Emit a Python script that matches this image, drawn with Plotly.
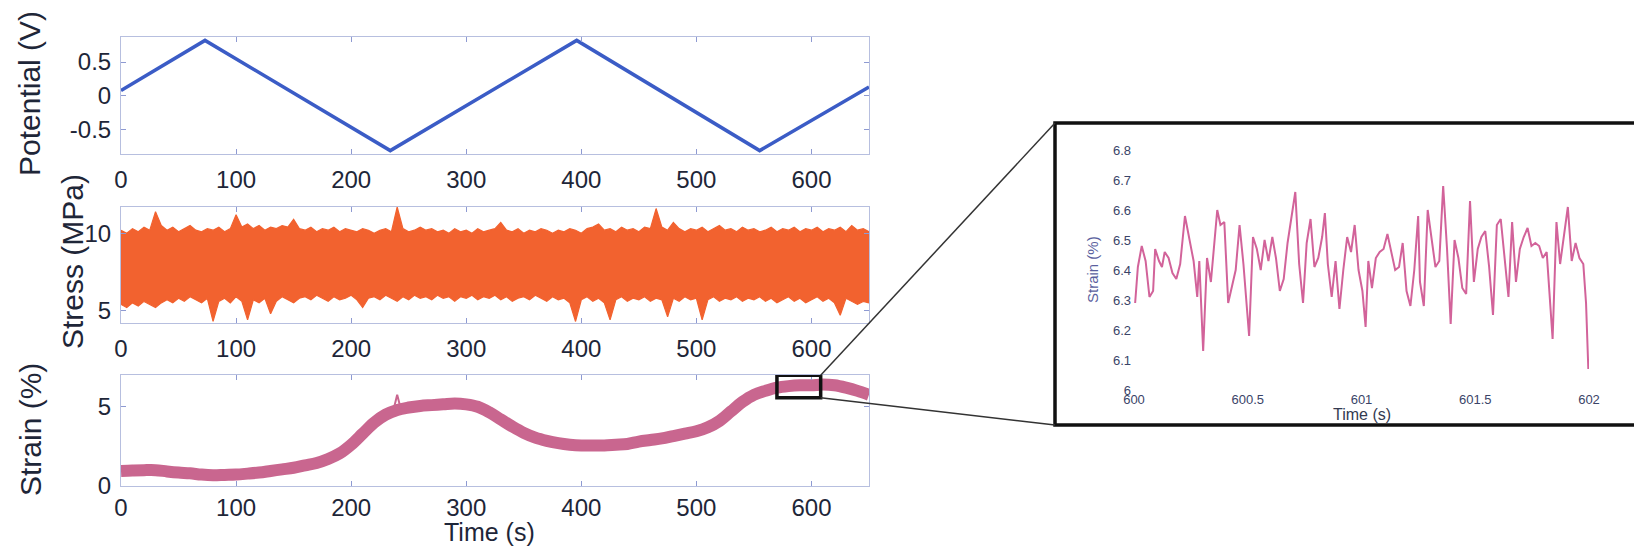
import plotly.graph_objects as go

# ---------------- data ----------------
pot_time = [0, 73, 234, 396, 555, 650]
pot_volt = [0.08, 0.82, -0.81, 0.82, -0.81, 0.13]

stress_time = list(range(0, 655, 5))
stress_upper = [
    10.2, 10.0, 10.3, 10.1, 10.4, 10.2, 11.4, 10.5, 10.2, 10.4,
    10.1, 10.3, 10.5, 10.2, 10.1, 10.3, 10.2, 10.4, 10.1, 10.3,
    11.2, 10.4, 10.6, 10.3, 10.5, 10.2, 10.4, 10.3, 10.5, 10.4,
    10.9, 10.3, 10.2, 10.4, 10.1, 10.3, 10.2, 10.4, 10.1, 10.3,
    10.2, 10.1, 10.3, 10.2, 10.0, 10.2, 10.3, 10.1, 11.7, 10.3,
    10.1, 10.2, 10.4, 10.2, 10.3, 10.1, 10.2, 10.0, 10.3, 10.1,
    10.2, 10.0, 10.3, 10.1, 10.2, 10.3, 10.7, 10.2, 10.1, 10.3,
    10.0, 10.2, 10.1, 10.3, 10.2, 10.0, 10.2, 10.1, 10.3, 10.2,
    10.0, 10.3, 10.4, 10.6, 10.2, 10.3, 10.1, 10.4, 10.2, 10.3,
    10.1, 10.4, 10.3, 11.6, 10.4, 10.2, 10.7, 10.3, 10.1, 10.3,
    10.2, 10.4, 10.1, 10.3, 10.5, 10.2, 10.3, 10.1, 10.4, 10.2,
    10.3, 10.1, 10.2, 10.4, 10.1, 10.3, 10.2, 10.4, 10.1, 10.3,
    10.2, 10.4, 10.1, 10.3, 10.2, 10.4, 10.1, 10.5, 10.2, 10.3,
    10.1,
]
stress_lower = [
    5.4, 5.2, 5.5, 5.3, 5.6, 5.4, 5.2, 5.5, 5.7, 5.5,
    5.8, 5.6, 5.9, 5.7, 5.5, 5.8, 4.3, 5.6, 5.8, 5.5,
    5.9, 5.6, 4.4, 5.7, 5.5, 5.8, 4.8, 5.6, 5.9, 5.7,
    5.5, 5.8, 5.9, 5.7, 6.0, 5.8, 5.6, 5.9, 5.7, 5.8,
    6.0, 5.7, 5.2, 5.8, 5.9, 5.7, 6.0, 5.8, 5.6, 5.9,
    5.7, 6.0, 5.8, 5.9, 5.7, 6.0, 5.8, 5.9, 5.6, 5.9,
    5.8, 6.0, 5.7, 5.9, 5.8, 6.0, 5.7, 5.9, 5.6, 5.8,
    5.9, 5.7, 6.0, 5.8, 5.6, 5.9, 5.7, 5.8, 5.5, 4.3,
    5.7, 5.9, 5.6, 5.8, 5.5, 4.4, 5.7, 5.9, 5.6, 5.8,
    5.7, 5.9, 5.6, 5.8, 5.7, 4.6, 5.8, 5.6, 5.9, 5.7,
    5.8, 4.4, 5.7, 5.9, 5.6, 5.8, 5.7, 5.9, 5.6, 5.8,
    5.7, 5.9, 5.6, 5.8, 5.5, 5.7, 5.9, 5.6, 5.8, 5.5,
    5.7, 5.9, 5.6, 5.8, 5.5, 4.7, 5.8, 5.6, 5.4, 5.6,
    5.5,
]

strain_time = list(range(0, 660, 10))
strain_pct = [
    0.95, 0.98, 1.0, 1.0, 0.92, 0.85, 0.8, 0.72, 0.68, 0.7,
    0.72, 0.78, 0.85, 0.95, 1.05, 1.15, 1.3, 1.45, 1.7, 2.05,
    2.6, 3.3, 4.0, 4.5, 4.8, 4.95, 5.05, 5.1, 5.15, 5.2,
    5.15, 5.0, 4.65, 4.2, 3.75, 3.35, 3.05, 2.85, 2.7, 2.6,
    2.55, 2.55, 2.55, 2.6, 2.65, 2.8, 2.9, 3.0, 3.15, 3.3,
    3.45, 3.7, 4.1, 4.7, 5.3, 5.75, 6.0, 6.2, 6.3, 6.35,
    6.35, 6.4, 6.35, 6.2, 6.0, 5.75,
]
spike_time = [237, 240, 243]
spike_pct = [4.85, 5.75, 4.9]

zoom_box_time = [570, 608]
zoom_box_pct = [5.57, 6.98]

inset_time = [
    600.005, 600.017, 600.034, 600.051, 600.068, 600.084, 600.093, 600.110, 600.123, 600.135,
    600.152, 600.169, 600.186, 600.203, 600.224, 600.245, 600.262, 600.278, 600.287, 600.304,
    600.321, 600.338, 600.354, 600.366, 600.380, 600.397, 600.414, 600.430, 600.447, 600.464,
    600.481, 600.506, 600.523, 600.540, 600.557, 600.574, 600.591, 600.608, 600.624, 600.641,
    600.658, 600.675, 600.692, 600.709, 600.726, 600.743, 600.759, 600.776, 600.793, 600.810,
    600.827, 600.839, 600.852, 600.869, 600.886, 600.903, 600.920, 600.937, 600.954, 600.970,
    600.987, 601.004, 601.018, 601.030, 601.046, 601.063, 601.080, 601.097, 601.114, 601.131,
    601.148, 601.165, 601.181, 601.198, 601.215, 601.232, 601.249, 601.257, 601.274, 601.291,
    601.308, 601.325, 601.342, 601.359, 601.376, 601.392, 601.409, 601.426, 601.443, 601.460,
    601.477, 601.494, 601.511, 601.527, 601.544, 601.561, 601.578, 601.595, 601.612, 601.629,
    601.646, 601.662, 601.679, 601.696, 601.713, 601.730, 601.747, 601.764, 601.781, 601.797,
    601.814, 601.840, 601.857, 601.873, 601.890, 601.907, 601.924, 601.941, 601.958, 601.975,
    601.987, 601.997,
]
inset_strain = [
    6.29, 6.41, 6.48, 6.43, 6.31, 6.33, 6.47, 6.43, 6.41, 6.46,
    6.44, 6.39, 6.37, 6.42, 6.58, 6.50, 6.43, 6.31, 6.43, 6.13,
    6.44, 6.36, 6.50, 6.60, 6.55, 6.56, 6.29, 6.34, 6.40, 6.55,
    6.42, 6.18, 6.51, 6.47, 6.40, 6.50, 6.43, 6.51, 6.44, 6.33,
    6.37, 6.49, 6.58, 6.66, 6.42, 6.29, 6.49, 6.57, 6.41, 6.44,
    6.51, 6.59, 6.42, 6.31, 6.43, 6.27, 6.40, 6.51, 6.46, 6.55,
    6.40, 6.33, 6.21, 6.43, 6.34, 6.44, 6.46, 6.47, 6.52, 6.46,
    6.40, 6.41, 6.49, 6.33, 6.28, 6.40, 6.58, 6.36, 6.28, 6.60,
    6.51, 6.41, 6.43, 6.68, 6.47, 6.22, 6.50, 6.44, 6.34, 6.32,
    6.63, 6.36, 6.47, 6.51, 6.53, 6.41, 6.25, 6.55, 6.57, 6.44,
    6.31, 6.56, 6.36, 6.47, 6.51, 6.54, 6.48, 6.49, 6.48, 6.44,
    6.46, 6.17, 6.56, 6.42, 6.51, 6.61, 6.43, 6.49, 6.44, 6.42,
    6.29, 6.07,
]

main_ticks = [0, 100, 200, 300, 400, 500, 600]
pot_ticks = [-0.5, 0, 0.5]
pot_labels = ["-0.5", "0", "0.5"]
inset_xticks = [600, 600.5, 601, 601.5, 602]
inset_xlabels = ["600", "600.5", "601", "601.5", "602"]
inset_yticks = [6.0, 6.1, 6.2, 6.3, 6.4, 6.5, 6.6, 6.7, 6.8]
inset_ylabels = ["6", "6.1", "6.2", "6.3", "6.4", "6.5", "6.6", "6.7", "6.8"]

# ---------------- layout helpers ----------------
# the page body has an 8 px margin, so the figure is drawn at (8, 8) of the window
OFF = 8
W, H = 1642 - 2 * OFF, 555 - 2 * OFF
def px(p):
    return (p - OFF) / W
def py(p):
    return 1 - (p - OFF) / H

FONT = "Liberation Sans, Arial, sans-serif"
TICKCOL = "#1e2638"
BLUE = "#3b5cc6"
ORANGE = "#f2622f"
PINK = "#c9668f"
INSET_PINK = "#d2639a"

main_xdom = [px(121), px(869)]
top_dom = [py(154), py(37)]
mid_dom = [py(323), py(207)]
bot_dom = [py(486), py(375)]
inset_xdom = [px(1134), px(1589)]
inset_ydom = [py(390), py(150)]

fig = go.Figure()
fig.add_trace(go.Scatter(x=pot_time, y=pot_volt, mode="lines",
                         line=dict(color=BLUE, width=3.5), xaxis="x", yaxis="y"))
fig.add_trace(go.Scatter(x=stress_time, y=stress_lower, mode="lines",
                         line=dict(color=ORANGE, width=1.2), xaxis="x2", yaxis="y2"))
fig.add_trace(go.Scatter(x=stress_time, y=stress_upper, mode="lines", fill="tonexty",
                         fillcolor=ORANGE, line=dict(color=ORANGE, width=1.2),
                         xaxis="x2", yaxis="y2"))
fig.add_trace(go.Scatter(x=strain_time, y=strain_pct, mode="lines",
                         line=dict(color=PINK, width=12, shape="spline"), xaxis="x3", yaxis="y3"))
fig.add_trace(go.Scatter(x=spike_time, y=spike_pct, mode="lines",
                         line=dict(color=PINK, width=2), xaxis="x3", yaxis="y3"))
fig.add_trace(go.Scatter(x=inset_time, y=inset_strain, mode="lines",
                         line=dict(color=INSET_PINK, width=2), xaxis="x4", yaxis="y4"))

def main_x(anchor, dom, standoff=4):
    return dict(domain=dom, anchor=anchor, range=[0, 650], tickvals=main_ticks,
                ticks="inside", ticklen=5, tickcolor="#8e9ad2", showline=True,
                linecolor="#b7bfdf", linewidth=1, mirror="ticks", showgrid=False,
                zeroline=False, tickfont=dict(family=FONT, size=24, color=TICKCOL),
                ticklabelstandoff=standoff, automargin=False)

def main_y(anchor, dom, rng, tv, tt=None):
    d = dict(domain=dom, anchor=anchor, range=rng, tickvals=tv,
             ticks="inside", ticklen=5, tickcolor="#8e9ad2", showline=True,
             linecolor="#b7bfdf", linewidth=1, mirror="ticks", showgrid=False,
             zeroline=False, tickfont=dict(family=FONT, size=24, color=TICKCOL),
             ticklabelstandoff=4, automargin=False)
    if tt is not None:
        d["ticktext"] = tt
    return d

layout = dict(
    width=W, height=H, margin=dict(l=0, r=0, t=0, b=0, autoexpand=False),
    paper_bgcolor="white", plot_bgcolor="white", showlegend=False,
    xaxis=main_x("y", main_xdom),
    yaxis=main_y("x", top_dom, [-0.86, 0.87], pot_ticks, pot_labels),
    xaxis2=main_x("y2", main_xdom),
    yaxis2=main_y("x2", mid_dom, [4.2, 11.7], [5, 10]),
    xaxis3=main_x("y3", main_xdom, standoff=0),
    yaxis3=main_y("x3", bot_dom, [0, 7], [0, 5]),
    xaxis4=dict(domain=inset_xdom, anchor="y4", range=[600, 602], tickvals=inset_xticks,
                ticktext=inset_xlabels, showline=False, ticks="", showgrid=False,
                zeroline=False, tickfont=dict(family=FONT, size=13, color="#3a4468"),
                ticklabelstandoff=0, automargin=False),
    yaxis4=dict(domain=inset_ydom, anchor="x4", range=[6.0, 6.8], tickvals=inset_yticks,
                ticktext=inset_ylabels, showline=False, ticks="", showgrid=False,
                zeroline=False, tickfont=dict(family=FONT, size=13, color="#3a4468"),
                ticklabelstandoff=2, automargin=False),
)
fig.update_layout(**layout)

# annotations (titles)
ann = [
    dict(text="Potential (V)", x=px(29), y=py(94), textangle=-90, font=dict(size=30)),
    dict(text="Stress (MPa)", x=px(72), y=py(262), textangle=-90, font=dict(size=30)),
    dict(text="Strain (%)", x=px(30), y=py(430), textangle=-90, font=dict(size=30)),
    dict(text="Time (s)", x=px(490), y=0.0, yanchor="bottom", font=dict(size=25)),
    dict(text="Strain (%)", x=px(1092), y=py(270), textangle=-90,
         font=dict(size=15, color="#5a5f9e")),
    dict(text="Time (s)", x=px(1362), y=py(414), font=dict(size=16, color="#333a50")),
]
for a in ann:
    a.setdefault("yanchor", "middle")
    a.update(xref="paper", yref="paper", showarrow=False, xanchor="center", borderpad=0)
    a["font"].setdefault("color", TICKCOL)
    a["font"]["family"] = FONT
fig.update_layout(annotations=ann)

# zoom box in bottom axes, inset frame, connector lines
def bx(t):
    return main_xdom[0] + t / 650 * (main_xdom[1] - main_xdom[0])
def by(v):
    return bot_dom[0] + v / 7 * (bot_dom[1] - bot_dom[0])

frame_left, frame_top, frame_bottom = px(1055), py(123), py(425)
shapes = [
    dict(type="rect", xref="x3", yref="y3", x0=zoom_box_time[0], x1=zoom_box_time[1],
         y0=zoom_box_pct[0], y1=zoom_box_pct[1], line=dict(color="#111111", width=3.5)),
    dict(type="rect", xref="paper", yref="paper", x0=frame_left, x1=1.05,
         y0=frame_bottom, y1=frame_top, line=dict(color="#111111", width=3.5)),
    dict(type="line", xref="paper", yref="paper", x0=bx(zoom_box_time[1]), y0=by(zoom_box_pct[1]),
         x1=frame_left, y1=frame_top, line=dict(color="#333333", width=1.5)),
    dict(type="line", xref="paper", yref="paper", x0=bx(zoom_box_time[1]), y0=by(zoom_box_pct[0]),
         x1=frame_left, y1=frame_bottom, line=dict(color="#333333", width=1.5)),
]
fig.update_layout(shapes=shapes)

fig.write_html("out.html")
